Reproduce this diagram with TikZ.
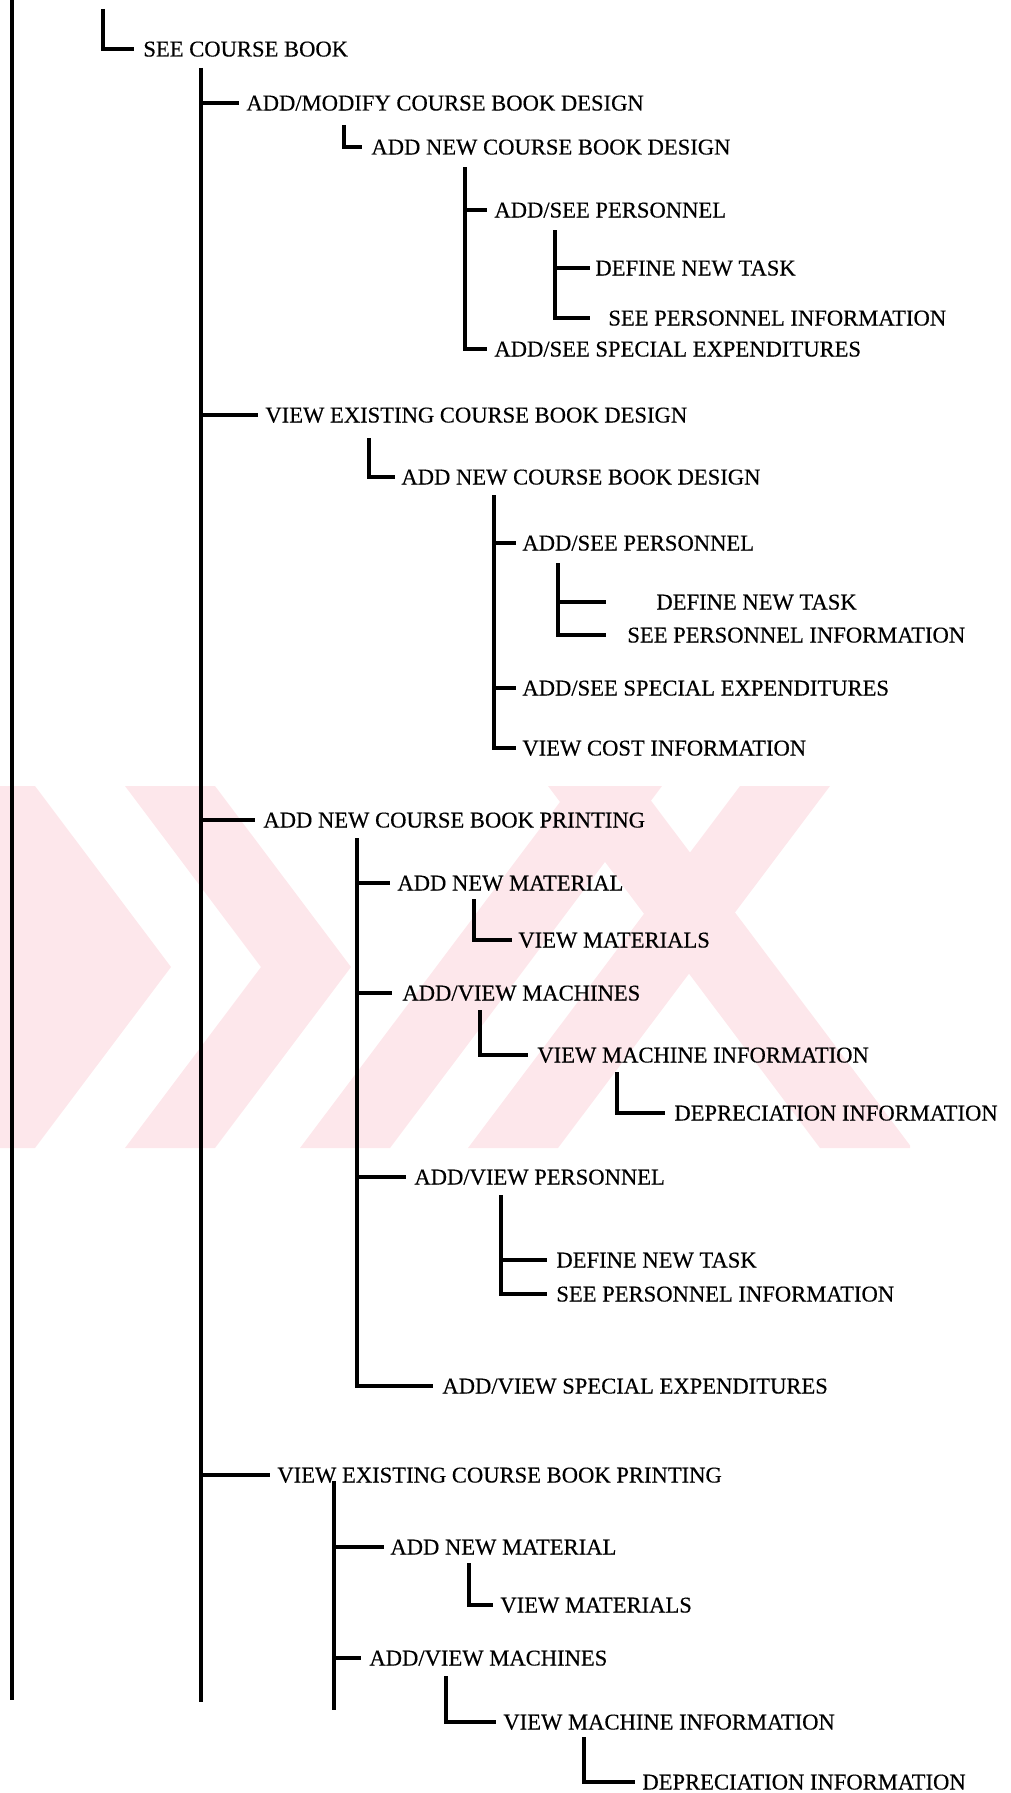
\documentclass[tikz,border=0pt]{standalone}
\usepackage{fontspec}
\setmainfont{Liberation Serif}
\newfontfamily\scanfont{Liberation Serif}[FakeBold=0.4]
\definecolor{stamppink}{RGB}{253,231,235}

\begin{document}
\begin{tikzpicture}[
        x=0.5pt, y=-0.5pt,
        item/.style={anchor=west, inner xsep=3.5pt, inner ysep=0pt,
            text height=7.5pt, text depth=0pt,
            font=\scanfont\fontsize{11.3}{13}\selectfont},
        wide/.style={inner xsep=#1},
        link/.style={line width=1.6pt},
    ]
  \useasboundingbox (0,0) rectangle (1011,1793);

  % stamp behind the tree
  \begin{scope}
    \clip (0,786) rectangle (910,1148);
    \fill[stamppink] (0,786) -- (35,786) -- (171,967) -- (35,1148) -- (0,1148) -- cycle;
    \fill[stamppink] (125,786) -- (215,786) -- (351,967) -- (215,1148) -- (125,1148) -- (261,967) -- cycle;
    \fill[stamppink] (300,1148) -- (390,1148) -- (662,786) -- (572,786) -- cycle;
    \fill[stamppink] (468,1148) -- (558,1148) -- (830,786) -- (740,786) -- cycle;
    \fill[stamppink] (548,786) -- (640,786) -- (912,1148) -- (820,1148) -- cycle;
  \end{scope}

  % outer spine
  \coordinate (root) at (12,0);
  \coordinate (rootend) at (12,1700);
  \draw[link] (root) -- (rootend);

  \coordinate (up) at (103,9);
  \node[item, wide=4.5pt] (book) at (134,49) {SEE COURSE BOOK};
  \draw[link] (up) |- (book.west);

  % first level
  \coordinate (s1) at (201,68);
  \coordinate (s1end) at (201,1702);
  \node[item] (modify) at (239,103) {ADD/MODIFY COURSE BOOK DESIGN};
  \node[item] (viewdes) at (258,415) {VIEW EXISTING COURSE BOOK DESIGN};
  \node[item, wide=4pt] (newprint) at (255,820) {ADD NEW COURSE BOOK PRINTING};
  \node[item] (viewprint) at (270,1475) {VIEW EXISTING COURSE BOOK PRINTING};
  \draw[link] (s1) -- (s1end);
  \foreach \n in {modify,viewdes,newprint,viewprint}
    \draw[link] (s1 |- \n.west) -- (\n.west);

  % add/modify design
  \coordinate (d1) at (344,125);
  \node[item, wide=4.5pt] (newdesA) at (362,147) {ADD NEW COURSE BOOK DESIGN};
  \draw[link] (d1) |- (newdesA.west);

  \coordinate (s2) at (465,167);
  \node[item] (persA) at (487,210) {ADD/SEE PERSONNEL};
  \node[item] (expA) at (487,349) {ADD/SEE SPECIAL EXPENDITURES};
  \foreach \n in {persA,expA}
    \draw[link] (s2) |- (\n.west);

  \coordinate (s3) at (555,230);
  \node[item, wide=2.5pt] (taskA) at (590,268) {DEFINE NEW TASK};
  \node[item, wide=9pt] (infoA) at (590,318) {SEE PERSONNEL INFORMATION};
  \foreach \n in {taskA,infoA}
    \draw[link] (s3) |- (\n.west);

  % view existing design
  \coordinate (d2) at (369,438);
  \node[item, wide=3pt] (newdesB) at (395,477) {ADD NEW COURSE BOOK DESIGN};
  \draw[link] (d2) |- (newdesB.west);

  \coordinate (s4) at (494,495);
  \node[item, wide=3pt] (persB) at (516,543) {ADD/SEE PERSONNEL};
  \node[item, wide=3pt] (expB) at (516,688) {ADD/SEE SPECIAL EXPENDITURES};
  \node[item, wide=3pt] (cost) at (516,748) {VIEW COST INFORMATION};
  \foreach \n in {persB,expB,cost}
    \draw[link] (s4) |- (\n.west);

  \coordinate (s5) at (558,563);
  \node[item, wide=25pt] (taskB) at (606,602) {DEFINE NEW TASK};
  \node[item, wide=10.5pt] (infoB) at (606,635) {SEE PERSONNEL INFORMATION};
  \foreach \n in {taskB,infoB}
    \draw[link] (s5) |- (\n.west);

  % new printing
  \coordinate (s6) at (357,838);
  \node[item] (matA) at (390,883) {ADD NEW MATERIAL};
  \node[item, wide=5pt] (machA) at (392,993) {ADD/VIEW MACHINES};
  \node[item, wide=4pt] (persC) at (406,1177) {ADD/VIEW PERSONNEL};
  \node[item, wide=4.5pt] (expC) at (433,1386) {ADD/VIEW SPECIAL EXPENDITURES};
  \foreach \n in {matA,machA,persC,expC}
    \draw[link] (s6) |- (\n.west);

  \coordinate (d3) at (474,899);
  \node[item, wide=3pt] (viewmatA) at (512,940) {VIEW MATERIALS};
  \draw[link] (d3) |- (viewmatA.west);

  \coordinate (d4) at (480,1010);
  \node[item, wide=4.5pt] (machinfoA) at (528,1055) {VIEW MACHINE INFORMATION};
  \draw[link] (d4) |- (machinfoA.west);

  \coordinate (d5) at (617,1072);
  \node[item, wide=4.5pt] (deprA) at (665,1113) {DEPRECIATION INFORMATION};
  \draw[link] (d5) |- (deprA.west);

  \coordinate (s7) at (501,1195);
  \node[item, wide=4.5pt] (taskC) at (547,1260) {DEFINE NEW TASK};
  \node[item, wide=4.5pt] (infoC) at (547,1294) {SEE PERSONNEL INFORMATION};
  \foreach \n in {taskC,infoC}
    \draw[link] (s7) |- (\n.west);

  % view existing printing
  \coordinate (s8) at (334,1481);
  \coordinate (s8end) at (334,1710);
  \node[item, wide=3pt] (matB) at (384,1547) {ADD NEW MATERIAL};
  \node[item, wide=4pt] (machB) at (361,1658) {ADD/VIEW MACHINES};
  \draw[link] (s8) -- (s8end);
  \foreach \n in {matB,machB}
    \draw[link] (s8 |- \n.west) -- (\n.west);

  \coordinate (d6) at (469,1563);
  \node[item] (viewmatB) at (493,1605) {VIEW MATERIALS};
  \draw[link] (d6) |- (viewmatB.west);

  \coordinate (d7) at (446,1676);
  \node[item] (machinfoB) at (496,1722) {VIEW MACHINE INFORMATION};
  \draw[link] (d7) |- (machinfoB.west);

  \coordinate (d8) at (584,1737);
  \node[item] (deprB) at (635,1782) {DEPRECIATION INFORMATION};
  \draw[link] (d8) |- (deprB.west);
\end{tikzpicture}
\end{document}
